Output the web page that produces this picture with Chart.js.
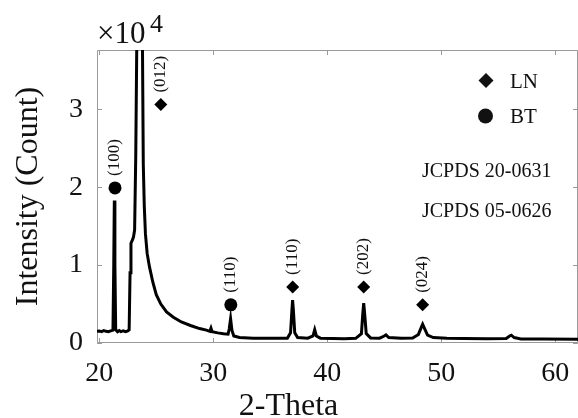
<!DOCTYPE html>
<html><head><meta charset="utf-8">
<script src="https://cdn.jsdelivr.net/npm/chart.js@4.4.0/dist/chart.umd.min.js"></script>
<style>html,body{margin:0;padding:0;background:#fff;overflow:hidden}</style>
</head><body>
<canvas id="c" width="578" height="418"></canvas>
<script>
const twoTheta = [19.8,20.0,20.2,20.4,20.6,20.8,21.0,21.2,21.27,21.32,21.37,21.44,21.6,21.75,21.9,22.1,22.3,22.5,22.62,22.7,22.78,22.9,23.0,23.1,23.2,23.3,23.55,23.78,23.86,23.95,24.05,24.2,24.4,24.7,25.0,25.4,25.9,26.5,27.2,28.0,28.8,29.4,29.7,29.8,29.9,30.4,30.9,31.3,31.4,31.52,31.64,31.8,32.3,33.5,34.5,35.5,36.5,36.78,36.9,36.96,37.03,37.15,37.4,38.3,38.75,38.9,39.05,39.4,40.5,41.5,42.5,43.0,43.12,43.2,43.28,43.42,43.8,44.6,45.0,45.15,45.4,46.5,47.5,48.0,48.25,48.37,48.55,48.8,49.3,50.5,52.0,54.0,55.7,56.0,56.15,56.4,57.0,59.0,62.0];
const intensity = [1500,1550,1450,1600,1500,1450,1550,1650,10000,18300,10000,1700,1450,1600,1450,1550,1450,1550,1700,9000,12800,13200,13600,14500,24000,40000,62000,40000,23000,17500,14000,11500,9800,7800,6200,5000,4000,3300,2700,2250,1850,1650,1500,1900,1450,1300,1200,1150,1800,3100,1600,900,700,620,600,600,620,1300,4200,5500,4200,1300,700,620,900,1700,900,620,580,560,600,1200,3800,5100,3800,1200,650,620,900,1050,700,600,650,1100,2000,2400,1800,1000,700,620,580,550,580,900,1000,700,520,500,480];

const lnX = [25.4, 36.97, 43.2, 48.37];
const lnY = [30600, 7200, 7200, 4900];
const lnLabels = ['(012)', '(110)', '(202)', '(024)'];
const btX = [21.38, 31.54];
const btY = [19900, 4900];
const btLabels = ['(100)', '(110)'];

const xTicks = [20, 30, 40, 50, 60];
const yTicks = [0, 10000, 20000, 30000];
const legendNames = ['LN', 'BT'];
const notes = ['JCPDS 20-0631', 'JCPDS 05-0626'];

const SERIF = '"Liberation Serif", "DejaVu Serif", serif';
const TXT = '#111';

const framePlugin = {
  id: 'frame',
  beforeDatasetsDraw(chart) {
    const {ctx, chartArea: a, scales} = chart;
    ctx.save();
    ctx.strokeStyle = '#9a9a9a';
    ctx.lineWidth = 1;
    ctx.beginPath();
    ctx.rect(a.left + 0.5, a.top + 0.5, a.right - a.left - 1, a.bottom - a.top - 1);
    ctx.stroke();
    ctx.beginPath();
    xTicks.forEach(v => {
      const px = Math.round(scales.x.getPixelForValue(v)) + 0.5;
      ctx.moveTo(px, a.bottom); ctx.lineTo(px, a.bottom - 5);
      ctx.moveTo(px, a.top); ctx.lineTo(px, a.top + 5);
    });
    yTicks.forEach(v => {
      const py = Math.round(scales.y.getPixelForValue(v)) + 0.5;
      ctx.moveTo(a.left, py); ctx.lineTo(a.left + 5, py);
      ctx.moveTo(a.right, py); ctx.lineTo(a.right - 5, py);
    });
    ctx.stroke();
    ctx.restore();
  },
  afterDraw(chart) {
    const {ctx, chartArea: a, scales} = chart;
    ctx.save();
    ctx.fillStyle = TXT;
    // peak labels
    ctx.font = '17px ' + SERIF;
    ctx.textBaseline = 'middle';
    ctx.textAlign = 'left';
    const drawLab = (xv, yv, t) => {
      const px = scales.x.getPixelForValue(xv);
      const py = scales.y.getPixelForValue(yv);
      ctx.save();
      ctx.translate(px, py - 12);
      ctx.rotate(-Math.PI / 2);
      ctx.fillText(t, 0, 0);
      ctx.restore();
    };
    lnX.forEach((x, i) => drawLab(x, lnY[i], lnLabels[i]));
    btX.forEach((x, i) => drawLab(x, btY[i], btLabels[i]));
    // legend
    ctx.beginPath();
    ctx.moveTo(486, 73); ctx.lineTo(493.5, 80.5); ctx.lineTo(486, 88); ctx.lineTo(478.5, 80.5); ctx.closePath();
    ctx.fill();
    ctx.beginPath(); ctx.arc(485.5, 116, 7.5, 0, Math.PI * 2); ctx.fill();
    ctx.font = '21px ' + SERIF;
    ctx.textBaseline = 'alphabetic';
    ctx.fillText(legendNames[0], 510, 88);
    ctx.fillText(legendNames[1], 510, 123);
    ctx.font = '20px ' + SERIF;
    ctx.fillText(notes[0], 422, 177);
    ctx.fillText(notes[1], 422, 217);
    // exponent
    ctx.font = '31px ' + SERIF;
    ctx.fillText('\u00d710', 97, 43);
    ctx.font = '26px ' + SERIF;
    ctx.fillText('4', 150, 32);
    // axis titles
    ctx.font = '32px ' + SERIF;
    ctx.textAlign = 'center';
    ctx.fillText('2-Theta', 288.5, 415);
    ctx.save();
    ctx.translate(37, (a.top + a.bottom) / 2);
    ctx.rotate(-Math.PI / 2);
    ctx.fillText('Intensity (Count)', 0, 0);
    ctx.restore();
    ctx.restore();
  }
};

new Chart(document.getElementById('c'), {
  data: {
    datasets: [
      {type: 'line', label: 'XRD', data: twoTheta.map((x, i) => ({x, y: intensity[i]})),
       borderColor: '#000', borderWidth: 3, pointRadius: 0, tension: 0, fill: false, order: 2},
      {type: 'scatter', label: 'LN', data: lnX.map((x, i) => ({x, y: lnY[i]})),
       pointStyle: 'rectRot', pointRadius: 6.5, backgroundColor: '#000', borderColor: '#000', borderWidth: 0, order: 1},
      {type: 'scatter', label: 'BT', data: btX.map((x, i) => ({x, y: btY[i]})),
       pointStyle: 'circle', pointRadius: 6.5, backgroundColor: '#000', borderColor: '#000', borderWidth: 0, order: 1}
    ]
  },
  options: {
    responsive: false,
    animation: false,
    devicePixelRatio: 1,
    layout: {autoPadding: false, padding: {top: 50, left: 0, right: 0, bottom: 0}},
    plugins: {legend: {display: false}, tooltip: {enabled: false}},
    scales: {
      x: {
        type: 'linear', min: 19.8, max: 62,
        afterBuildTicks: s => { s.ticks = xTicks.map(v => ({value: v})); },
        afterFit: s => { s.height = 75; s.paddingLeft = 0; s.paddingRight = 0; },
        grid: {display: false, drawTicks: false},
        border: {display: false},
        ticks: {font: {family: SERIF, size: 28}, color: TXT, padding: 14, maxRotation: 0}
      },
      y: {
        type: 'linear', min: 0, max: 37600,
        afterBuildTicks: s => { s.ticks = yTicks.map(v => ({value: v})); },
        afterFit: s => { s.width = 97; s.paddingTop = 0; s.paddingBottom = 0; },
        grid: {display: false, drawTicks: false},
        border: {display: false},
        ticks: {font: {family: SERIF, size: 28}, color: TXT, padding: 14, callback: v => String(v / 10000)}
      }
    }
  },
  plugins: [framePlugin]
});
</script>
</body></html>
